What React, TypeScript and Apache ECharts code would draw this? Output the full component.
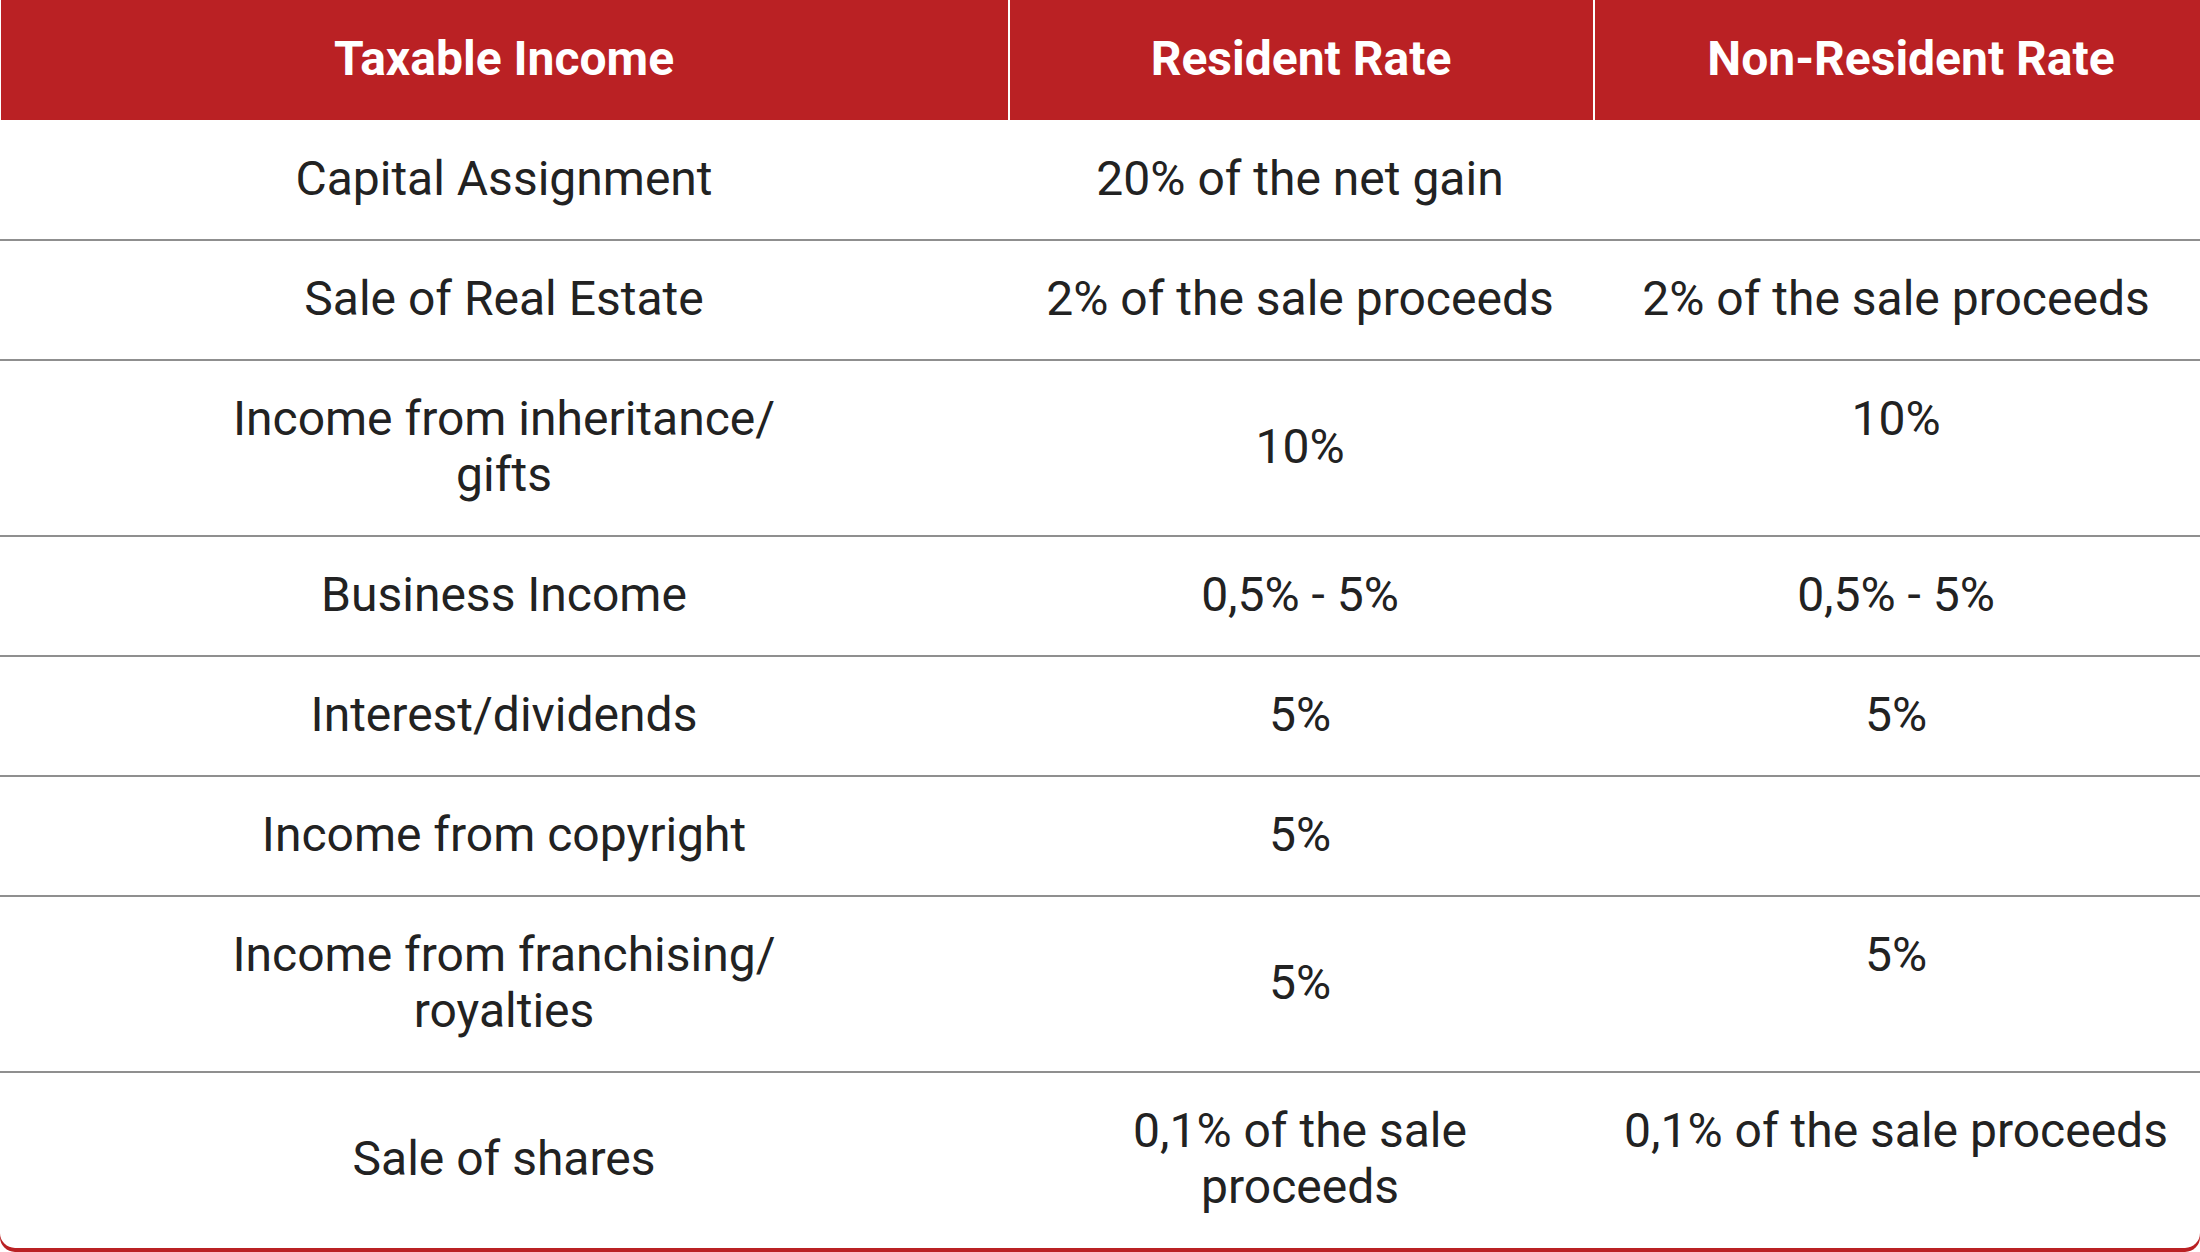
import React, { useEffect, useRef } from "react";
import * as echarts from "echarts";

const headers = ["Taxable Income", "Resident Rate", "Non-Resident Rate"];
const incomeTypes = [
  "Capital Assignment",
  "Sale of Real Estate",
  "Income from inheritance/\ngifts",
  "Business Income",
  "Interest/dividends",
  "Income from copyright",
  "Income from franchising/\nroyalties",
  "Sale of shares",
];
const residentRates = [
  "20% of the net gain",
  "2% of the sale proceeds",
  "10%",
  "0,5% - 5%",
  "5%",
  "5%",
  "5%",
  "0,1% of the sale\nproceeds",
];
const nonResidentRates = [
  "",
  "2% of the sale proceeds",
  "10%",
  "0,5% - 5%",
  "5%",
  "",
  "5%",
  "0,1% of the sale proceeds",
];

const W = 2200;
const H = 1252;
const RED = "#BA2124";
const TEXT = "#222222";
const FONT = "Roboto";
const colEdges = [0, 1009, 1594, W];
const headerCenters = [504, 1301, 1911];
const bodyCenters = [504, 1300, 1896];
const headerH = 120;
const lineH = 56;
const padV = 64;
const fontSize = 48;
const textShift = -1.5;

function buildGraphics() {
  const els: any[] = [];
  // shadow (red bottom band) and white card
  els.push({
    type: "rect",
    shape: { x: 0, y: 4, width: W, height: H - 4, r: [0, 0, 15, 15] },
    style: { fill: RED },
  });
  els.push({
    type: "rect",
    shape: { x: 0, y: 0, width: W, height: H - 4, r: [0, 0, 15, 15] },
    style: { fill: "#ffffff" },
  });
  // header
  els.push({
    type: "rect",
    shape: { x: 1, y: 0, width: W - 1, height: headerH },
    style: { fill: RED },
  });
  [colEdges[1], colEdges[2]].forEach((x) => {
    els.push({
      type: "rect",
      shape: { x: x - 1, y: 0, width: 2, height: headerH },
      style: { fill: "#ffffff" },
    });
  });
  headers.forEach((h, i) => {
    els.push({
      type: "text",
      x: headerCenters[i],
      y: headerH / 2 + textShift,
      style: {
        text: h,
        fill: "#ffffff",
        fontFamily: FONT,
        fontWeight: "bold",
        fontSize: fontSize,
        align: "center",
        verticalAlign: "middle",
      },
    });
  });
  // rows
  let y = headerH;
  incomeTypes.forEach((name, r) => {
    const cells = [name, residentRates[r], nonResidentRates[r]];
    const lines = Math.max(...cells.map((c) => c.split("\n").length));
    const rowH = padV + lines * lineH;
    const mid = y + rowH / 2;
    const top = mid - (lines * lineH) / 2;
    cells.forEach((c, ci) => {
      if (!c) return;
      const n = c.split("\n").length;
      const cy = ci === 2 ? top + (n * lineH) / 2 : mid;
      els.push({
        type: "text",
        x: bodyCenters[ci],
        y: cy + textShift,
        style: {
          text: c,
          fill: TEXT,
          fontFamily: FONT,
          fontSize: fontSize,
          lineHeight: lineH,
          align: "center",
          verticalAlign: "middle",
        },
      });
    });
    y += rowH;
    if (r < incomeTypes.length - 1) {
      els.push({
        type: "line",
        shape: { x1: 0, y1: y, x2: W, y2: y },
        style: { stroke: "#6a6a6a", lineWidth: 1.5 },
      });
    }
  });
  return els;
}

export default function App() {
  const ref = useRef<HTMLDivElement>(null);
  useEffect(() => {
    if (!ref.current) return;
    const chart = echarts.init(ref.current, undefined, { renderer: "svg" });
    chart.setOption({
      animation: false,
      backgroundColor: "#ffffff",
      graphic: { elements: buildGraphics() },
    });
    return () => chart.dispose();
  }, []);
  return (
    <div
      ref={ref}
      style={{ position: "absolute", left: 0, top: 0, width: W, height: H }}
    />
  );
}
